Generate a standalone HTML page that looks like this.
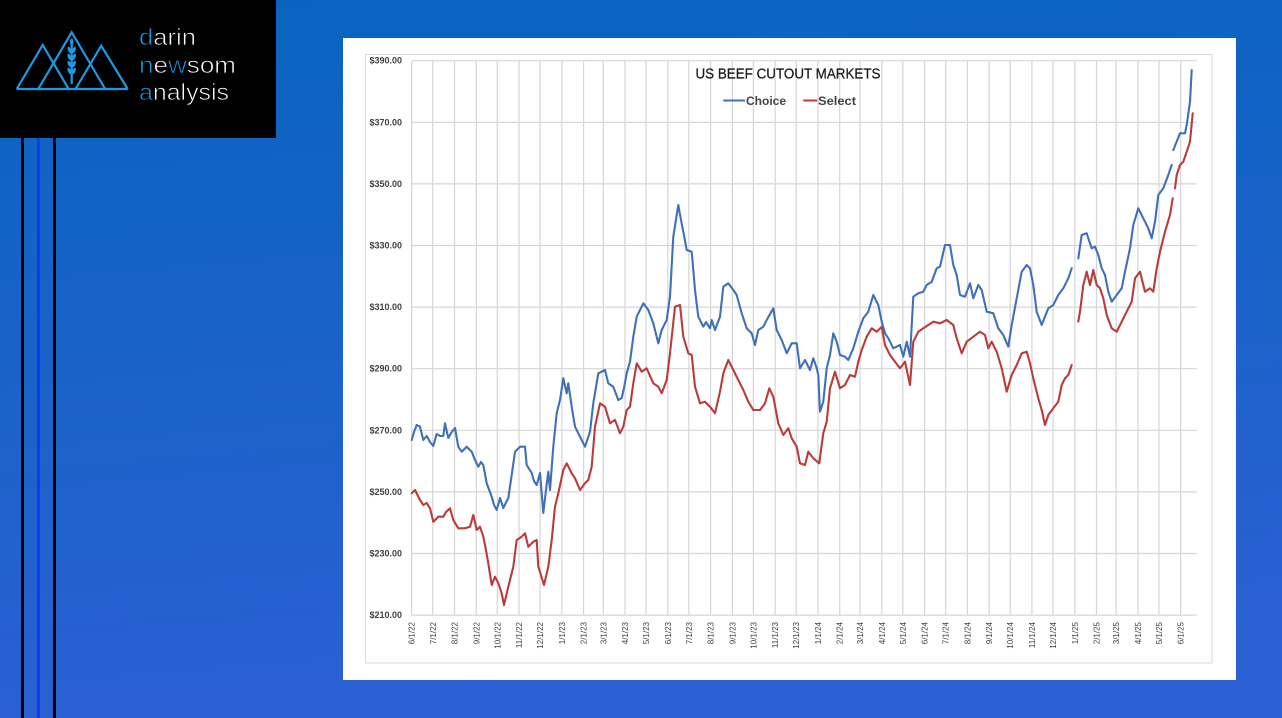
<!DOCTYPE html>
<html><head><meta charset="utf-8"><style>
html,body{margin:0;padding:0;}
body{width:1282px;height:718px;overflow:hidden;background:linear-gradient(180deg,#0a63be 0%,#1a62c8 50%,#2a61d2 100%);}
svg{display:block;}
</style></head><body>
<svg width="1282" height="718" viewBox="0 0 1282 718" xmlns="http://www.w3.org/2000/svg">
<defs>
<linearGradient id="bg" x1="0" y1="0" x2="0.15" y2="1">
<stop offset="0" stop-color="#0864bf"/>
<stop offset="1" stop-color="#2b60d3"/>
</linearGradient>
</defs>
<rect x="0" y="0" width="1282" height="718" fill="url(#bg)"/>
<!-- stripes -->
<rect x="21" y="138" width="3" height="580" fill="#000"/>
<rect x="37" y="138" width="3" height="580" fill="#0a3cf5"/>
<rect x="53" y="138" width="3" height="580" fill="#000"/>
<!-- logo -->
<rect x="0" y="0" width="276" height="138" fill="#000"/>
<g fill="none" stroke="#1a9be6" stroke-width="2.2" stroke-linejoin="miter">
<polyline points="16.7,89 42.7,45 68.7,89"/>
<polyline points="38.2,89 71.7,32.3 105.2,89"/>
<polyline points="75.5,89 101.2,45.7 127.7,89"/>
<line x1="16.7" y1="89" x2="127.7" y2="89"/>
<line x1="71.7" y1="40" x2="71.7" y2="84"/>
</g>
<g fill="#1a9be6">
<ellipse cx="71.7" cy="42" rx="1.6" ry="3.5"/>
<ellipse cx="69.5" cy="50" rx="1.6" ry="3.5" transform="rotate(-25 69.5 50)"/>
<ellipse cx="73.9" cy="50" rx="1.6" ry="3.5" transform="rotate(25 73.9 50)"/>
<ellipse cx="69.5" cy="57" rx="1.6" ry="3.5" transform="rotate(-25 69.5 57)"/>
<ellipse cx="73.9" cy="57" rx="1.6" ry="3.5" transform="rotate(25 73.9 57)"/>
<ellipse cx="69.5" cy="64" rx="1.6" ry="3.5" transform="rotate(-25 69.5 64)"/>
<ellipse cx="73.9" cy="64" rx="1.6" ry="3.5" transform="rotate(25 73.9 64)"/>
<ellipse cx="69.5" cy="71" rx="1.6" ry="3.5" transform="rotate(-25 69.5 71)"/>
<ellipse cx="73.9" cy="71" rx="1.6" ry="3.5" transform="rotate(25 73.9 71)"/>
</g>
<g font-family="Liberation Sans, sans-serif" font-size="23" fill="#ffffff" stroke="#000" stroke-width="0.7">
<text x="139" y="45" textLength="57" lengthAdjust="spacingAndGlyphs"><tspan fill="#1a9be6">d</tspan>arin</text>
<text x="139" y="73" textLength="97" lengthAdjust="spacingAndGlyphs"><tspan fill="#1a9be6">n</tspan>e<tspan fill="#1a9be6">w</tspan>som</text>
<text x="139" y="100" textLength="90" lengthAdjust="spacingAndGlyphs"><tspan fill="#1a9be6">a</tspan>nalysis</text>
</g>
<!-- chart box -->
<rect x="343" y="38" width="893" height="642" fill="#ffffff"/>
<rect x="365.5" y="54.5" width="846.5" height="608.5" fill="none" stroke="#d9d9d9" stroke-width="1"/>
<!-- gridlines -->
<g stroke="#d6d6d6" stroke-width="1.2" fill="none">
<line x1="411.7" y1="60.7" x2="1196.7" y2="60.7"/>
<line x1="411.7" y1="122.3" x2="1196.7" y2="122.3"/>
<line x1="411.7" y1="183.9" x2="1196.7" y2="183.9"/>
<line x1="411.7" y1="245.5" x2="1196.7" y2="245.5"/>
<line x1="411.7" y1="307.1" x2="1196.7" y2="307.1"/>
<line x1="411.7" y1="368.7" x2="1196.7" y2="368.7"/>
<line x1="411.7" y1="430.3" x2="1196.7" y2="430.3"/>
<line x1="411.7" y1="491.9" x2="1196.7" y2="491.9"/>
<line x1="411.7" y1="553.5" x2="1196.7" y2="553.5"/>
<line x1="411.7" y1="615.1" x2="1196.7" y2="615.1"/>
<path d="M411.7 60.7V615.1M432.75 60.7V615.1M454.5 60.7V615.1M476.25 60.7V615.1M497.3 60.7V615.1M519.05 60.7V615.1M540.1 60.7V615.1M561.85 60.7V615.1M583.6 60.7V615.1M603.25 60.7V615.1M625 60.7V615.1M646.05 60.7V615.1M667.8 60.7V615.1M688.85 60.7V615.1M710.6 60.7V615.1M732.35 60.7V615.1M753.4 60.7V615.1M775.15 60.7V615.1M796.2 60.7V615.1M817.95 60.7V615.1M839.7 60.7V615.1M860.05 60.7V615.1M881.8 60.7V615.1M902.85 60.7V615.1M924.6 60.7V615.1M945.65 60.7V615.1M967.4 60.7V615.1M989.15 60.7V615.1M1010.2 60.7V615.1M1031.95 60.7V615.1M1053 60.7V615.1M1074.75 60.7V615.1M1096.5 60.7V615.1M1116.15 60.7V615.1M1137.9 60.7V615.1M1158.95 60.7V615.1M1180.7 60.7V615.1"/>
</g>
<!-- y labels -->
<g font-family="Liberation Sans, sans-serif" font-size="9" font-weight="bold" fill="#404040" text-anchor="end">
<text x="402" y="63.7">$390.00</text>
<text x="402" y="125.3">$370.00</text>
<text x="402" y="186.9">$350.00</text>
<text x="402" y="248.5">$330.00</text>
<text x="402" y="310.1">$310.00</text>
<text x="402" y="371.7">$290.00</text>
<text x="402" y="433.3">$270.00</text>
<text x="402" y="494.9">$250.00</text>
<text x="402" y="556.5">$230.00</text>
<text x="402" y="618.1">$210.00</text>
</g>
<!-- x labels -->
<g font-family="Liberation Sans, sans-serif" font-size="8" fill="#404040" text-anchor="end">
<text transform="translate(411.7,622) rotate(-90)" dy="3">6/1/22</text>
<text transform="translate(432.75,622) rotate(-90)" dy="3">7/1/22</text>
<text transform="translate(454.5,622) rotate(-90)" dy="3">8/1/22</text>
<text transform="translate(476.25,622) rotate(-90)" dy="3">9/1/22</text>
<text transform="translate(497.3,622) rotate(-90)" dy="3">10/1/22</text>
<text transform="translate(519.05,622) rotate(-90)" dy="3">11/1/22</text>
<text transform="translate(540.1,622) rotate(-90)" dy="3">12/1/22</text>
<text transform="translate(561.85,622) rotate(-90)" dy="3">1/1/23</text>
<text transform="translate(583.6,622) rotate(-90)" dy="3">2/1/23</text>
<text transform="translate(603.25,622) rotate(-90)" dy="3">3/1/23</text>
<text transform="translate(625,622) rotate(-90)" dy="3">4/1/23</text>
<text transform="translate(646.05,622) rotate(-90)" dy="3">5/1/23</text>
<text transform="translate(667.8,622) rotate(-90)" dy="3">6/1/23</text>
<text transform="translate(688.85,622) rotate(-90)" dy="3">7/1/23</text>
<text transform="translate(710.6,622) rotate(-90)" dy="3">8/1/23</text>
<text transform="translate(732.35,622) rotate(-90)" dy="3">9/1/23</text>
<text transform="translate(753.4,622) rotate(-90)" dy="3">10/1/23</text>
<text transform="translate(775.15,622) rotate(-90)" dy="3">11/1/23</text>
<text transform="translate(796.2,622) rotate(-90)" dy="3">12/1/23</text>
<text transform="translate(817.95,622) rotate(-90)" dy="3">1/1/24</text>
<text transform="translate(839.7,622) rotate(-90)" dy="3">2/1/24</text>
<text transform="translate(860.05,622) rotate(-90)" dy="3">3/1/24</text>
<text transform="translate(881.8,622) rotate(-90)" dy="3">4/1/24</text>
<text transform="translate(902.85,622) rotate(-90)" dy="3">5/1/24</text>
<text transform="translate(924.6,622) rotate(-90)" dy="3">6/1/24</text>
<text transform="translate(945.65,622) rotate(-90)" dy="3">7/1/24</text>
<text transform="translate(967.4,622) rotate(-90)" dy="3">8/1/24</text>
<text transform="translate(989.15,622) rotate(-90)" dy="3">9/1/24</text>
<text transform="translate(1010.2,622) rotate(-90)" dy="3">10/1/24</text>
<text transform="translate(1031.95,622) rotate(-90)" dy="3">11/1/24</text>
<text transform="translate(1053,622) rotate(-90)" dy="3">12/1/24</text>
<text transform="translate(1074.75,622) rotate(-90)" dy="3">1/1/25</text>
<text transform="translate(1096.5,622) rotate(-90)" dy="3">2/1/25</text>
<text transform="translate(1116.15,622) rotate(-90)" dy="3">3/1/25</text>
<text transform="translate(1137.9,622) rotate(-90)" dy="3">4/1/25</text>
<text transform="translate(1158.95,622) rotate(-90)" dy="3">5/1/25</text>
<text transform="translate(1180.7,622) rotate(-90)" dy="3">6/1/25</text>
</g>
<!-- title & legend -->
<text x="788" y="78.5" font-family="Liberation Sans, sans-serif" font-size="14.5" fill="#1a1a1a" stroke="#1a1a1a" stroke-width="0.25" text-anchor="middle" textLength="185" lengthAdjust="spacingAndGlyphs">US BEEF CUTOUT MARKETS</text>
<line x1="723.3" y1="100.5" x2="745" y2="100.5" stroke="#4070b8" stroke-width="2"/>
<text x="746" y="105" font-family="Liberation Sans, sans-serif" font-size="12" font-weight="bold" fill="#444" textLength="40" lengthAdjust="spacingAndGlyphs">Choice</text>
<line x1="803.3" y1="100.5" x2="817.3" y2="100.5" stroke="#bb3b3b" stroke-width="2"/>
<text x="818" y="105" font-family="Liberation Sans, sans-serif" font-size="12" font-weight="bold" fill="#444" textLength="38" lengthAdjust="spacingAndGlyphs">Select</text>
<!-- series -->
<g fill="none" stroke-width="2.1" stroke-linejoin="round" stroke-linecap="round">
<g stroke="#bb3b3b">
<polyline points="411.7,493.3 415,490 420,500 423.3,505 426.7,503 430,508.3 433.3,521.7 438.3,516.7 443.3,516.7 446,512 450,508.3 453.3,520 458.3,528.3 465,528.3 470,526.7 473.3,515 476.7,530 480,526.7 483.3,536.7 486,550 488.3,563.3 491.7,585 495,576.7 498.3,583.3 501.7,593.3 504,605 508.3,586.7 513.3,566.7 516.7,540 521.7,536.7 525,533.3 528.3,546.7 533.3,541.7 536.7,540 538.3,566.7 544,585 548.3,566.7 551.7,540 555,506.7 558.3,493.3 563.3,470 566.7,463.3 571.7,473.3 575,478.3 580,490 585,483.3 588.3,480 591.7,466.7 595,426.7 600,403.3 605,406.7 610,423.3 615,420 620,433.3 623.3,426.7 626.7,410 630,406.7 633.3,383.3 636.7,363.3 641.7,371.7 646.7,368.3 653.3,383.3 658.3,386.7 661.7,393.3 666.7,380 670,353.3 675,306.7 680,305 683.3,336.7 688.3,353.3 691.7,355 695,386.7 700,403.3 705,401.7 710,406.7 715,413.3 720,391.7 723.3,373.3 728.3,360 733.3,370 738.3,380 743.3,390 748.3,401.7 753.3,410 760,410 765,403.3 769.3,388.3 773.3,396.7 778.3,423.3 783.3,435 788.3,428.3 791.7,438.3 796.7,446.7 800,463.3 805,465 808.3,451.7 813.3,458.3 819.3,463.3 821,450 823.3,433.3 826.7,421.7 830,388.3 835,371.7 840,388.3 845,385 850,375 855,376.7 858.3,361.7 861.7,350 866.7,336.7 871.7,328.3 876.7,331.7 881.7,326.7 885,345 890,355 895,361.7 900,368.3 905,361.7 910,385 913.3,341.7 918.3,331.7 923.3,328.3 928.3,325 933.3,321.7 940,323.3 946.7,320 953.3,325 956.7,338.3 961.7,353.3 966.7,341.7 973.3,336.7 980,331.7 985,335 988.3,348.3 991.7,341.7 996.7,351.7 1001.7,368.3 1006.7,391.7 1011.7,375 1016.7,365 1021.7,353.3 1026.7,351.7 1030,363.3 1033.3,378.3 1038.3,398.3 1041.7,410 1045,425 1048.3,415 1053.3,408.3 1058.3,401.7 1061.7,385 1065,378.3 1068.3,375 1071.7,365"/>
<polyline points="1078.3,321.7 1080,311.7 1083.3,285 1086.7,271.7 1090,285 1093.3,270 1096.7,285 1100,288.3 1103.3,298.3 1106.7,315 1111.7,328.3 1116.7,331.7 1121.7,321.7 1126.7,311.7 1131.7,301.7 1135,278.3 1140,271.7 1145,291.7 1150,288.3 1153.3,291.7 1156.7,268.3 1160,251.7 1165,231.7 1170,215 1172.7,198.3"/>
<polyline points="1175,188.3 1176.7,175 1180,165 1183.3,161.7 1186.7,151.7 1190,141.7 1192.7,113.3"/>
</g>
<g stroke="#4070b8">
<polyline points="411.7,440 414,432 416.7,425 420,426.7 423.3,440 426.7,436 430,442 433.3,446 436.7,434 440,436 443.3,436 445,423.3 448.3,438 451.7,432 455,428 458.3,446.7 461.7,451.7 466.7,446.7 471.7,451.7 475,460 478.3,466.7 481,462 483.3,465 486.7,483.3 491.7,496.7 494,505 496.7,510 500,498 503.3,508 508.3,498 511.7,475 515,451.7 520,446.7 525,446.7 526.7,465 531.7,473 534,481 536.7,485 540,473 543.3,513 546,490 548.3,471.7 550,490 553.3,446.7 556.7,413.3 560,400 563.3,378.3 566.7,393.3 568.3,383.3 571.7,406.7 575,426.7 580,436.7 585,446.7 590,431.7 593.3,403.3 598.3,373.3 605,370 608.3,383.3 613.3,386.7 618.3,400 621.7,398 624,388 626.7,373.3 630,361.7 633.3,336.7 636.7,316.7 643.3,303.3 648.3,310 653.3,323.3 658.3,343.3 661.7,330 665,323.3 666.7,320 670,296.7 673.3,236.7 678.3,205 681,220 683.3,231.7 686.7,250 691.7,251.7 695,290 698.3,316.7 703.3,326.7 706,322 710,328.3 711.7,320 715,330 720,316.7 723.3,286.7 728.3,283.3 733.3,290 736.7,295 741.7,313.3 746.7,328.3 751.7,333.3 755,345 758.3,330 763.3,326.7 766.7,320 773.3,308.3 776.7,330 781.7,340 786.7,353.3 791.7,343.3 796.7,343.3 800,368.3 805,360 810,370 813.3,358.3 816.7,368 818.3,375 820,411.7 823.3,401.7 826.7,368.3 830,355 833.3,333.3 836.7,341.7 840,355 845,356.7 848.3,360 853.3,348.3 858.3,331.7 863.3,318.3 868.3,311.7 873.3,295 878.3,305 881.7,321.7 885,333.3 888.3,338.3 893.3,348.3 900,345 903.3,356.7 906.7,341.7 910,356.7 913.3,296.7 918.3,293.3 923.3,291.7 926.7,285 931.7,281.7 936.7,268.3 940,266.7 945,245 950,245 953.3,265 956.7,275 960,295 965,296.7 970,283.3 973.3,298.3 978.3,285 981.7,290 986.7,311.7 993.3,313.3 998.3,328.3 1003.3,335 1008.3,346.7 1011.7,325 1016.7,298.3 1021.7,271.7 1026.7,265 1030,268.3 1033.3,285 1036.7,311.7 1041.7,325 1048.3,308.3 1053.3,305 1058.3,295 1063.3,288.3 1068.3,278.3 1071.7,268.3"/>
<polyline points="1078.3,258.3 1081.7,235 1086.7,233.3 1091.7,248.3 1095,246.7 1098.3,255 1101.7,268.3 1105,275 1108.3,291.7 1111.7,301.7 1116.7,295 1121.7,288.3 1125,271.7 1130,248.3 1133.3,225 1138.3,208.3 1143.3,218.3 1148.3,228.3 1151.7,238.3 1155,221.7 1158.3,195 1163.3,188.3 1168.3,175 1171.7,165"/>
<polyline points="1173.3,150 1180,133.3 1185,133.3 1186.7,125 1190,101.7 1191.7,70"/>
</g>
</g>
</svg>
</body></html>
